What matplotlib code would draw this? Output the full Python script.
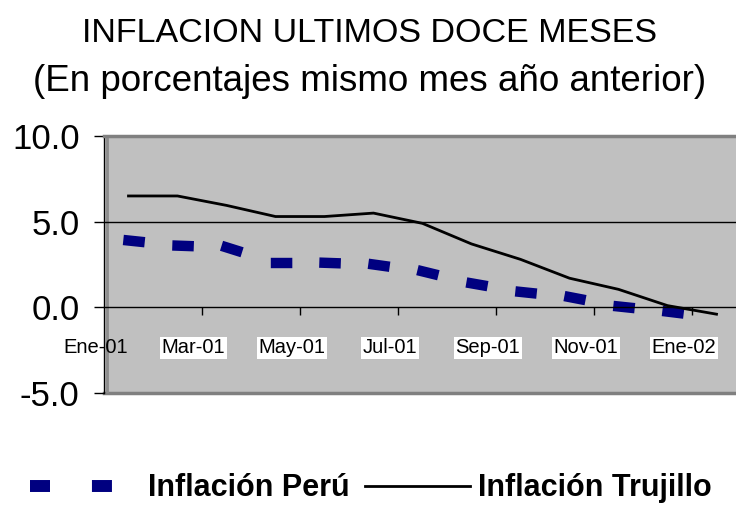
import matplotlib
matplotlib.use("Agg")
import matplotlib.pyplot as plt
from matplotlib.lines import Line2D
from matplotlib import font_manager

# data
months = ["Ene-01", "Feb-01", "Mar-01", "Abr-01", "May-01", "Jun-01", "Jul-01",
          "Ago-01", "Sep-01", "Oct-01", "Nov-01", "Dic-01", "Ene-02"]
inflacion_peru = [3.9, 3.6, 3.5, 2.6, 2.6, 2.5, 2.1, 1.4, 0.9, 0.6, 0.05, -0.25, -0.6]
inflacion_trujillo = [6.5, 6.5, 5.95, 5.3, 5.3, 5.5, 4.9, 3.7, 2.8, 1.7, 1.05, 0.1, -0.4]
yticks = [-5.0, 0.0, 5.0, 10.0]
label_every = 2

plt.rcParams['font.family'] = ['Liberation Sans', 'DejaVu Sans']
plt.rcParams['lines.scale_dashes'] = False

names = {f.name for f in font_manager.fontManager.ttflist}
narrow = 'Liberation Sans Narrow' if 'Liberation Sans Narrow' in names else 'Liberation Sans'
xlab_size = 16 if narrow == 'Liberation Sans Narrow' else 14.5

W, H = 736, 505
fig = plt.figure(figsize=(W / 100, H / 100), dpi=100)
# plot area: x 104..741 px, y 136..393 px
ax = fig.add_axes([104 / W, 1 - 393 / H, 637 / W, 257 / H])
ax.set_facecolor('#C0C0C0')

n = len(months)
xs = [i + 0.5 for i in range(n)]
ax.set_xlim(0, n)
ax.set_ylim(-5, 10)

ax.axhline(5, color='black', lw=1, zorder=1)
ax.plot(xs, inflacion_trujillo, color='black', lw=2, zorder=3)
# excel restarts the dash pattern at every point, so draw segment by segment
for i in range(len(inflacion_peru) - 1):
    ax.plot(xs[i:i + 2], inflacion_peru[i:i + 2], color='#000080', lw=7.5,
            dashes=(8, 40), dash_capstyle='projecting', zorder=2)

# spines
ax.spines['top'].set_color('#808080')
ax.spines['top'].set_linewidth(2.5)
ax.spines['right'].set_visible(False)
ax.spines['left'].set_color('black')
ax.spines['left'].set_linewidth(1)
ax.spines['bottom'].set_position(('data', 0))
ax.spines['bottom'].set_color('black')
ax.spines['bottom'].set_linewidth(1)
ax.axhline(-5, color='#808080', lw=2.5, clip_on=False, zorder=0.5)
ax.axvline(0.06, color='#8c8c8c', lw=2, zorder=0.5)

ax.set_yticks(yticks)
ax.set_yticklabels([f"{v:.1f}" for v in yticks], fontsize=25)
ax.tick_params(axis='y', direction='out', length=7.5, width=1, pad=10)
ax.set_xticks(range(label_every, n, label_every))
ax.set_xticklabels([])
ax.tick_params(axis='x', direction='out', length=6, width=1)

for i in range(0, n, label_every):
    bb = None if i == 0 else dict(boxstyle='square,pad=0.08', fc='white', ec='none')
    ax.text(i - 0.17, -2.37, months[i], ha='center', va='center',
            fontsize=xlab_size, family=narrow, bbox=bb, clip_on=False, zorder=4)

# titles
fig.text(370 / W, 1 - 42 / H, "INFLACION ULTIMOS DOCE MESES", ha='center',
         va='baseline', fontsize=24.5)
fig.text(370 / W, 1 - 91 / H, "(En porcentajes mismo mes año anterior)",
         ha='center', va='baseline', fontsize=26.5)

# legend
ly = 1 - 486 / H
fig.add_artist(Line2D([30 / W, 113 / W], [ly, ly], color='#000080', lw=8.6,
                      dashes=(14.4, 30.2), dash_capstyle='butt',
                      transform=fig.transFigure))
fig.add_artist(Line2D([365 / W, 470 / W], [ly, ly], color='black', lw=2,
                      transform=fig.transFigure))
fig.text(148 / W, 1 - 496 / H, "Inflación Perú", fontsize=22, fontweight='bold',
         va='baseline')
fig.text(478 / W, 1 - 496 / H, "Inflación Trujillo", fontsize=22,
         fontweight='bold', va='baseline')

fig.savefig("out.png", dpi=100)
